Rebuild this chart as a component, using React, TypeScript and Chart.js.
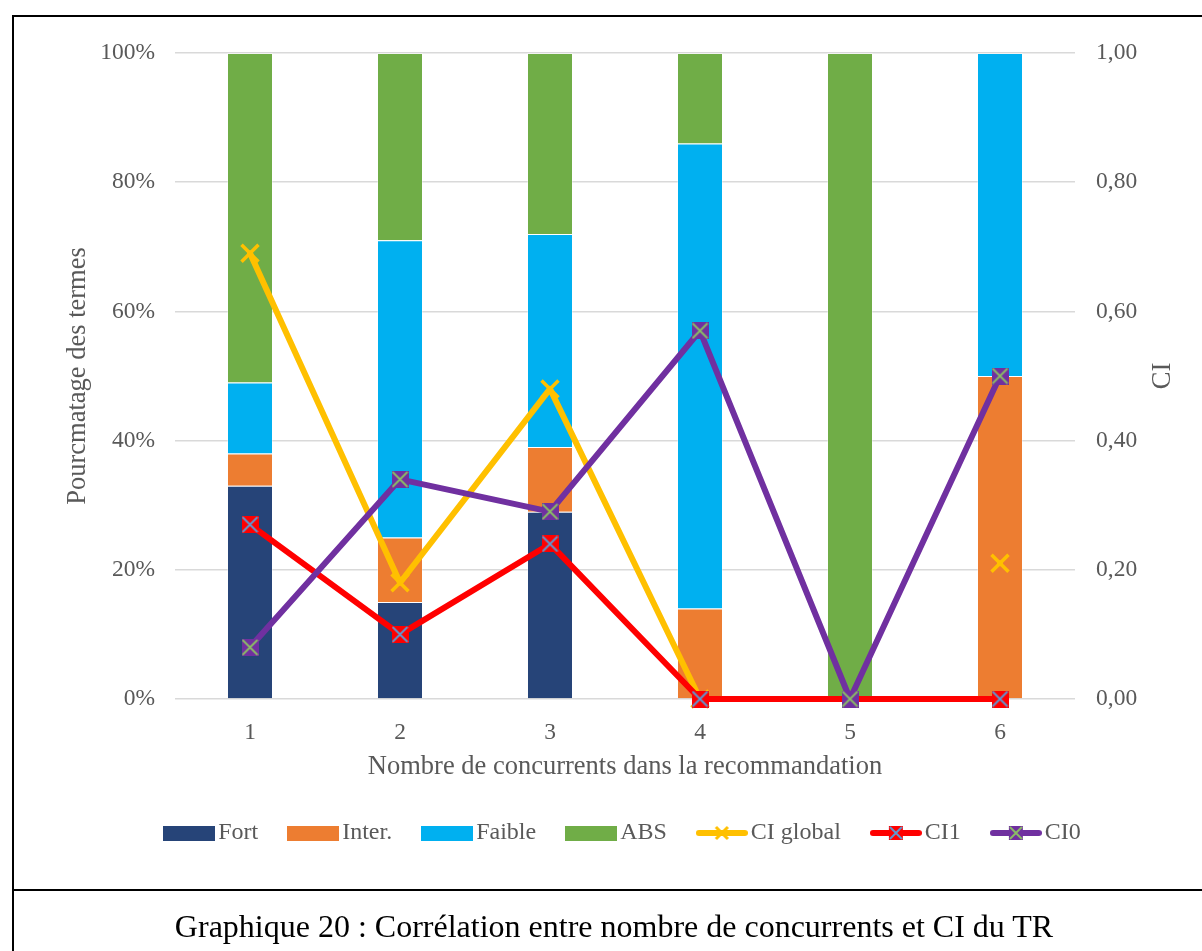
import React, { useEffect, useRef } from 'react';
import { Chart, registerables } from 'chart.js';

Chart.register(...registerables);

const categories = ['1', '2', '3', '4', '5', '6'];
const fort = [33, 15, 29, 0, 0, 0];
const inter = [5, 10, 10, 14, 0, 50];
const faible = [11, 46, 33, 72, 0, 50];
const abs = [51, 29, 28, 14, 100, 0];
const ciGlobal = [0.69, 0.18, 0.48, 0, null, 0.21];
const ci1 = [0.27, 0.1, 0.24, 0, 0, 0];
const ci0 = [0.08, 0.34, 0.29, 0.57, 0, 0.5];
const leftTicks = ['0%', '20%', '40%', '60%', '80%', '100%'];
const rightTicks = ['0,00', '0,20', '0,40', '0,60', '0,80', '1,00'];

const FONT = "'Liberation Serif', 'Times New Roman', serif";
const GRAY = '#595959';
const C_FORT = '#264478';
const C_INTER = '#ED7D31';
const C_FAIBLE = '#00B0F0';
const C_ABS = '#70AD47';
const C_GLOBAL = '#FFC000';
const C_CI1 = '#FF0000';
const C_CI0 = '#7030A0';

function squareX(fill: string, stroke: string, size: number) {
  const c = document.createElement('canvas');
  c.width = size;
  c.height = size;
  const g = c.getContext('2d')!;
  g.fillStyle = fill;
  g.fillRect(0, 0, size, size);
  g.strokeStyle = stroke;
  g.lineWidth = 1.8;
  g.beginPath();
  g.moveTo(1, 1);
  g.lineTo(size - 1, size - 1);
  g.moveTo(size - 1, 1);
  g.lineTo(1, size - 1);
  g.stroke();
  return c;
}

function legendBar(color: string) {
  const c = document.createElement('canvas');
  c.width = 52;
  c.height = 15;
  const g = c.getContext('2d')!;
  g.fillStyle = color;
  g.fillRect(0, 0, 52, 15);
  return c;
}

function legendLine(color: string, marker: HTMLCanvasElement | null, crossColor?: string) {
  const c = document.createElement('canvas');
  c.width = 52;
  c.height = 18;
  const g = c.getContext('2d')!;
  g.strokeStyle = color;
  g.lineWidth = 6;
  g.lineCap = 'round';
  g.beginPath();
  g.moveTo(3, 9);
  g.lineTo(49, 9);
  g.stroke();
  if (marker) {
    g.drawImage(marker, 26 - marker.width / 2, 9 - marker.height / 2);
  } else if (crossColor) {
    g.strokeStyle = crossColor;
    g.lineWidth = 3;
    g.lineCap = 'butt';
    g.beginPath();
    g.moveTo(20, 3);
    g.lineTo(32, 15);
    g.moveTo(32, 3);
    g.lineTo(20, 15);
    g.stroke();
  }
  return c;
}

const rightTitlePlugin = {
  id: 'rightTitle',
  afterDraw(chart: any) {
    const { ctx, chartArea } = chart;
    const s = chart.scales.y1;
    ctx.save();
    ctx.translate(s.right - 39, (chartArea.top + chartArea.bottom) / 2);
    ctx.rotate(-Math.PI / 2);
    ctx.font = `26.5px ${FONT}`;
    ctx.fillStyle = GRAY;
    ctx.textAlign = 'center';
    ctx.textBaseline = 'middle';
    ctx.fillText('CI', 0, 0);
    ctx.restore();
  },
};

export default function App() {
  const ref = useRef<HTMLCanvasElement>(null);

  useEffect(() => {
    if (!ref.current) return;
    const mk1 = squareX(C_CI1, '#5B9BD5', 17);
    const mk0 = squareX(C_CI0, '#8CC063', 17);
    const mk1s = squareX(C_CI1, '#5B9BD5', 14);
    const mk0s = squareX(C_CI0, '#8CC063', 14);
    const legendImgs = [
      legendBar(C_FORT),
      legendBar(C_INTER),
      legendBar(C_FAIBLE),
      legendBar(C_ABS),
      legendLine(C_GLOBAL, null, C_GLOBAL),
      legendLine(C_CI1, mk1s),
      legendLine(C_CI0, mk0s),
    ];

    const barBase = {
      type: 'bar' as const,
      yAxisID: 'y',
      xAxisID: 'x',
      order: 10,
      borderWidth: 1,
      borderColor: 'rgba(255,255,255,0.35)',
      borderSkipped: 'start' as const,
      categoryPercentage: 0.3067,
      barPercentage: 1,
    };
    const lineBase = {
      type: 'line' as const,
      yAxisID: 'y1',
      xAxisID: 'x',
      borderWidth: 6,
      tension: 0,
      spanGaps: false,
      clip: false as any,
      borderJoinStyle: 'round' as const,
      borderCapStyle: 'round' as const,
    };

    const chart = new Chart(ref.current, {
      type: 'bar',
      data: {
        labels: categories,
        datasets: [
          { ...barBase, label: 'Fort', data: fort, backgroundColor: C_FORT },
          { ...barBase, label: 'Inter.', data: inter, backgroundColor: C_INTER },
          { ...barBase, label: 'Faible', data: faible, backgroundColor: C_FAIBLE },
          { ...barBase, label: 'ABS', data: abs, backgroundColor: C_ABS },
          {
            ...lineBase,
            label: 'CI global',
            data: ciGlobal,
            borderColor: C_GLOBAL,
            backgroundColor: C_GLOBAL,
            pointStyle: 'crossRot',
            pointRadius: 12,
            pointBorderWidth: 3.5,
            pointBorderColor: C_GLOBAL,
            order: 3,
          },
          {
            ...lineBase,
            label: 'CI1',
            data: ci1,
            borderColor: C_CI1,
            backgroundColor: C_CI1,
            pointStyle: mk1 as any,
            pointRadius: 9,
            order: 2,
          },
          {
            ...lineBase,
            label: 'CI0',
            data: ci0,
            borderColor: C_CI0,
            backgroundColor: C_CI0,
            pointStyle: mk0 as any,
            pointRadius: 9,
            order: 1,
          },
        ] as any,
      },
      options: {
        responsive: false,
        animation: false,
        events: [],
        devicePixelRatio: 1,
        layout: { padding: { left: 51, right: 0, top: 53, bottom: 96 } },
        scales: {
          x: {
            stacked: true,
            grid: { display: false },
            border: { display: false },
            ticks: { color: GRAY, font: { family: FONT, size: 23.5 }, padding: 12 },
            title: {
              display: true,
              text: 'Nombre de concurrents dans la recommandation',
              color: GRAY,
              font: { family: FONT, size: 26.5 },
              padding: { top: 0, bottom: 0 },
            },
            afterFit: (s: any) => {
              s.height = 84;
            },
          },
          y: {
            stacked: true,
            position: 'left',
            min: 0,
            max: 100,
            ticks: {
              stepSize: 20,
              color: GRAY,
              font: { family: FONT, size: 23.5 },
              padding: 20,
              callback: (_v: any, i: number) => leftTicks[i],
            },
            grid: { color: '#d9d9d9', lineWidth: 1.5, drawTicks: false },
            border: { display: false },
            title: {
              display: true,
              text: 'Pourcmatage des termes',
              color: GRAY,
              font: { family: FONT, size: 26.5 },
              padding: { top: 11, bottom: 0 },
            },
            afterFit: (s: any) => {
              s.width = 124;
            },
          },
          y1: {
            position: 'right',
            min: 0,
            max: 1,
            ticks: {
              stepSize: 0.2,
              color: GRAY,
              font: { family: FONT, size: 23.5 },
              padding: 21,
              callback: (_v: any, i: number) => rightTicks[i],
            },
            grid: { display: false, drawTicks: false },
            border: { display: false },
            afterFit: (s: any) => {
              s.width = 127;
            },
          },
        },
        plugins: {
          tooltip: { enabled: false },
          legend: {
            position: 'bottom',
            labels: {
              color: GRAY,
              font: { family: FONT, size: 24 },
              usePointStyle: true,
              pointStyleWidth: 34,
              padding: 38,
              sort: (a: any, b: any) => a.datasetIndex - b.datasetIndex,
              generateLabels: (ch: any) => {
                const items = (Chart.defaults.plugins.legend.labels as any).generateLabels(ch);
                items.forEach((it: any) => {
                  it.pointStyle = legendImgs[it.datasetIndex];
                });
                return items;
              },
            },
          },
        },
      } as any,
      plugins: [rightTitlePlugin],
    });
    return () => chart.destroy();
  }, []);

  return (
    <div
      style={{
        position: 'absolute',
        left: 0,
        top: 0,
        width: 1202,
        height: 951,
        overflow: 'hidden',
        background: '#fff',
      }}
    >
      <canvas
        ref={ref}
        width={1202}
        height={951}
        style={{ position: 'absolute', left: 0, top: 0, width: 1202, height: 951 }}
      />
      <div style={{ position: 'absolute', left: 12, top: 15, width: 2, height: 936, background: '#000' }} />
      <div style={{ position: 'absolute', left: 12, top: 15, width: 1190, height: 2, background: '#000' }} />
      <div style={{ position: 'absolute', left: 12, top: 889, width: 1190, height: 2, background: '#000' }} />
      <div
        style={{
          position: 'absolute',
          left: 0,
          top: 910,
          width: 1228,
          textAlign: 'center',
          fontFamily: FONT,
          fontSize: 32,
          lineHeight: '32px',
          color: '#000',
          whiteSpace: 'nowrap',
        }}
      >
        Graphique 20 : Corrélation entre nombre de concurrents et CI du TR
      </div>
    </div>
  );
}
